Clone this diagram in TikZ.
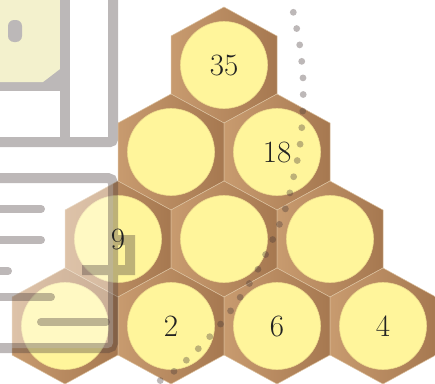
\documentclass[tikz,border=0pt]{standalone}
\usepackage{xcolor}
\definecolor{hexL}{HTML}{C89B6F}
\definecolor{hexR}{HTML}{A67850}
\definecolor{hexedge}{HTML}{DCC2A0}
\definecolor{cellfill}{HTML}{FFF59B}
\definecolor{celledge}{HTML}{EDDA8C}
\definecolor{docgrey}{HTML}{BCB8B8}
\definecolor{notefill}{HTML}{F3F1CD}
\definecolor{inkgrey}{rgb}{0.26,0.206,0.206}
\definecolor{numink}{HTML}{222222}
\tikzset{
  hexcell/.style={left color=hexL, right color=hexR, draw=hexedge, line width=0.5pt},
  cellcircle/.style={circle, fill=cellfill, draw=celledge, line width=0.6pt, minimum size=87pt, inner sep=0pt},
  numtext/.style={inner sep=0pt, text=numink, font=\fontsize{31}{31}\selectfont},
  docline/.style={inkgrey, draw opacity=0.35, line width=10pt},
  docpill/.style={inkgrey, draw opacity=0.35, line width=8pt, line cap=round},
  dotline/.style={inkgrey, draw opacity=0.35, line width=6.8pt, line cap=round, dash pattern=on 0pt off 16.6pt},
}
\begin{document}
\begin{tikzpicture}[x=1pt,y=-1pt]
\useasboundingbox (0,0) rectangle (435,383);
\clip (0,0) rectangle (435,383);

% top document (over white)
\fill[docgrey] (-10,-10) rectangle (70,91);
\fill[notefill] (-10,-10) -- (60,-10) -- (60,69) -- (43,82) -- (-10,82) -- cycle;
\draw[docgrey, line width=10pt] (65,-10) -- (65,142);
\draw[docgrey, line width=10pt, rounded corners=3pt] (-10,142) -- (113,142) -- (113,-10);
\fill[docgrey, rounded corners=6pt] (8,20) rectangle (22,42);

% hexagon centres
\coordinate (h1) at (224,65);
\coordinate (h2) at (171,152);
\coordinate (h3) at (277,152);
\coordinate (h4) at (118,239);
\coordinate (h5) at (224,239);
\coordinate (h6) at (330,239);
\coordinate (h7) at (65,326);
\coordinate (h8) at (171,326);
\coordinate (h9) at (277,326);
\coordinate (h10) at (383,326);

\foreach \h in {h1,h2,h3,h4,h5,h6,h7,h8,h9,h10}{
  \path[hexcell] (\h) ++(0,-58) -- ++(53,29) -- ++(0,58) -- ++(-53,29) -- ++(-53,-29) -- ++(0,-58) -- cycle;
}
\foreach \h in {h1,h2,h3,h4,h5,h6,h7,h8,h9,h10}{
  \node[cellcircle] (c\h) at (\h) {};
}

% second document (semi-transparent, over the cells)
\fill[white, fill opacity=0.4, rounded corners=5pt] (-10,178) rectangle (113,348);
\draw[docline] [rounded corners=5pt] (-10,178) -- (113,178) -- (113,348) -- (-10,348)
  [sharp corners] (113,240) -- (130,240) -- (130,270) -- (82,270);
\draw[docpill] (-10,209) -- (41,209) (-10,240) -- (41,240) (-10,271) -- (8,271)
  (-10,297) -- (51,297) (41,322) -- (106,322);

% dotted curve
\draw[dotline] plot[smooth, tension=0.55] coordinates {(293.3,12.3) (299.7,45) (303,78) (302.7,111.7) (300,145) (293.3,178.3) (285,210) (272,241) (257,271) (239,299) (219,326) (197,350) (172,373) (158,382) (146,392)};

% numbers
\node[numtext] (t1) at (ch1) {35};
\node[numtext] (t3) at (ch3) {18};
\node[numtext] (t4) at (ch4) {9};
\node[numtext] (t8) at (ch8) {2};
\node[numtext] (t9) at (ch9) {6};
\node[numtext] (t10) at (ch10) {4};
\end{tikzpicture}
\end{document}
